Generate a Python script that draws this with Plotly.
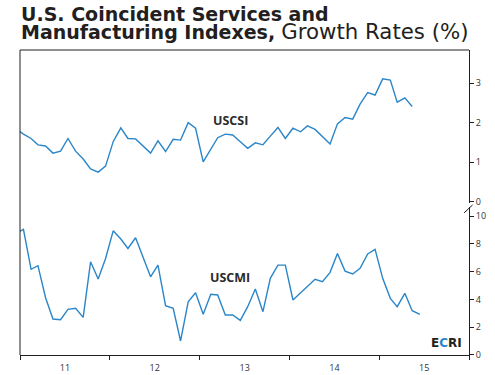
import pandas as pd
import plotly.graph_objects as go

# Monthly observations, Dec 2010 - Jun 2015 (plotted mid-month)
months = pd.date_range("2010-12-01", "2015-06-01", freq="MS") + pd.Timedelta(days=14)

uscsi = [1.85, 1.71, 1.60, 1.44, 1.41, 1.23, 1.28, 1.60, 1.28, 1.08, 0.83, 0.75, 0.90,
         1.52, 1.87, 1.60, 1.59, 1.41, 1.23, 1.54, 1.27, 1.58, 1.56, 2.00, 1.86,
         1.01, 1.35, 1.62, 1.71, 1.69, 1.52, 1.35, 1.49, 1.44, 1.66, 1.88, 1.60,
         1.86, 1.77, 1.92, 1.83, 1.65, 1.46, 1.97, 2.13, 2.09, 2.47, 2.76, 2.70,
         3.11, 3.08, 2.52, 2.63, 2.41, None]

uscmi = [8.75, 9.04, 6.17, 6.43, 4.12, 2.59, 2.54, 3.29, 3.36, 2.71, 6.71, 5.47, 6.95,
         8.94, 8.35, 7.67, 8.44, 7.03, 5.63, 6.47, 3.55, 3.36, 1.01, 3.83, 4.48,
         2.93, 4.37, 4.32, 2.88, 2.88, 2.49, 3.48, 4.75, 3.12, 5.52, 6.47, 6.47,
         3.96, 4.48, 4.99, 5.45, 5.28, 5.95, 7.31, 6.04, 5.83, 6.24, 7.27, 7.60,
         5.52, 4.08, 3.48, 4.44, 3.19, 2.93]

upper_ticks = [0, 1, 2, 3]
lower_ticks = [0, 2, 4, 6, 8, 10]

LINE = "#2a86c8"
DARK = "#231f20"
FONT = "Open Sans"
TFONT = "DejaVu Sans"

fig = go.Figure()
fig.add_trace(go.Scatter(x=months, y=uscsi, mode="lines", xaxis="x", yaxis="y",
                         line=dict(color=LINE, width=1.4), name="USCSI",
                         connectgaps=False, showlegend=False))
fig.add_trace(go.Scatter(x=months, y=uscmi, mode="lines", xaxis="x", yaxis="y2",
                         line=dict(color=LINE, width=1.4), name="USCMI",
                         showlegend=False))

tickfont = dict(family=FONT, size=9, color="#333333")

fig.update_layout(
    template="none",
    width=495, height=375,
    margin=dict(l=20, r=26, t=50, b=20, autoexpand=False),
    paper_bgcolor="white", plot_bgcolor="white",
    xaxis=dict(
        domain=[0, 1], anchor="y2", automargin=False,
        range=["2011-01-01", "2016-01-01"],
        dtick="M12", tick0="2011-01-01", tickformat="%y",
        ticklabelmode="period",
        ticks="outside", ticklen=4, tickcolor=DARK, tickwidth=1,
        showline=True, linecolor=DARK, linewidth=1,
        showgrid=False, zeroline=False, tickfont=tickfont,
    ),
    yaxis=dict(
        domain=[0.5, 1], anchor="x", side="right", automargin=False,
        range=[-0.02, 3.84], tickvals=upper_ticks,
        ticks="outside", ticklen=4, tickcolor=DARK, tickwidth=1,
        showline=True, linecolor=DARK, linewidth=1,
        showgrid=False, zeroline=False, tickfont=tickfont,
    ),
    yaxis2=dict(
        domain=[0, 0.485], anchor="x", side="right", automargin=False,
        range=[0, 10.65], tickvals=lower_ticks,
        ticks="outside", ticklen=4, tickcolor=DARK, tickwidth=1,
        showline=True, linecolor=DARK, linewidth=1,
        showgrid=False, zeroline=False, tickfont=tickfont,
    ),
    shapes=[
        dict(type="line", xref="paper", yref="paper", x0=0, x1=0, y0=0, y1=1,
             line=dict(color=DARK, width=1)),
        dict(type="line", xref="paper", yref="paper", x0=0, x1=1, y0=1, y1=1,
             line=dict(color=DARK, width=1)),
        dict(type="line", xref="paper", yref="paper", x0=0.989, x1=1.008,
             y0=0.466, y1=0.492, line=dict(color=DARK, width=1)),
    ],
    annotations=[
        dict(text="<b>U.S. Coincident Services and</b>", xref="paper", yref="paper",
             x=0, y=1.118, xanchor="left", yanchor="middle", showarrow=False,
             xshift=-1, font=dict(family=TFONT, size=19, color=DARK)),
        dict(text="<b>Manufacturing Indexes,</b> <span style='font-size:21.3px'>Growth Rates (%)</span>",
             xref="paper", yref="paper", x=0, y=1.0605, xanchor="left", yanchor="middle",
             showarrow=False, xshift=-1, font=dict(family=TFONT, size=19, color=DARK)),
        dict(text="<b>USCSI</b>", xref="x", yref="y", x="2013-05-05", y=2.06,
             showarrow=False, font=dict(family=FONT, size=12.5, color="#2b2b2b")),
        dict(text="<b>USCMI</b>", xref="x", yref="y2", x="2013-05-05", y=5.6,
             showarrow=False, font=dict(family=FONT, size=12.5, color="#2b2b2b")),
        dict(text="<b>E<span style='color:#2a86c8'>C</span>RI</b>", xref="x", yref="y2",
             x="2015-10-03", y=0.83, showarrow=False,
             font=dict(family=TFONT, size=12, color=DARK)),
    ],
)

fig.write_html("out.html", config={"displayModeBar": False},
               post_script="document.body.style.margin='0';document.body.style.padding='0';")
